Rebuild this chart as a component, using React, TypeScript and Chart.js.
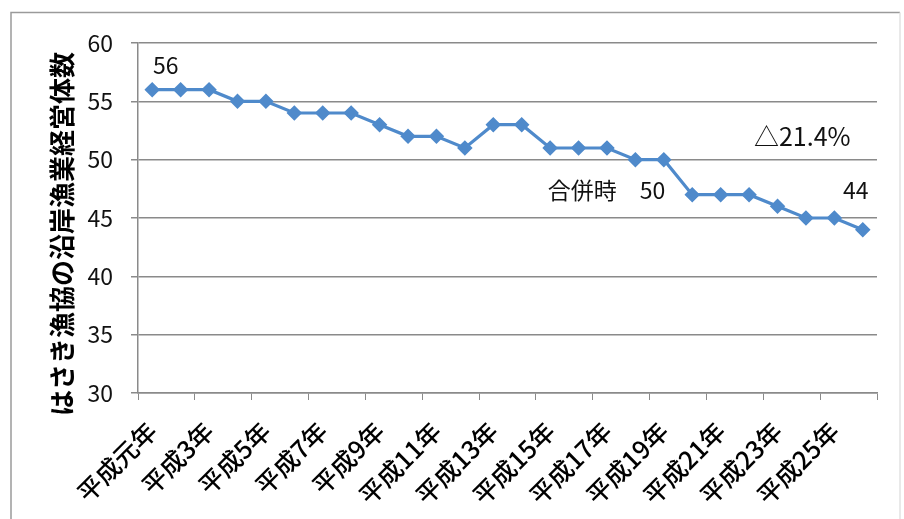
import React, { useEffect, useRef } from "react";
import { Chart, registerables } from "chart.js";

Chart.register(...registerables);

const categories = [
  "平成元年", "平成2年", "平成3年", "平成4年", "平成5年", "平成6年", "平成7年",
  "平成8年", "平成9年", "平成10年", "平成11年", "平成12年", "平成13年",
  "平成14年", "平成15年", "平成16年", "平成17年", "平成18年", "平成19年",
  "平成20年", "平成21年", "平成22年", "平成23年", "平成24年", "平成25年", "平成26年",
];
const values = [56, 56, 56, 55, 55, 54, 54, 54, 53, 52, 52, 51, 53, 53, 51, 51, 51, 50, 50, 47, 47, 47, 46, 45, 45, 44];
const yTicks = [30, 35, 40, 45, 50, 55, 60];
const yTitle = "はさき漁協の沿岸漁業経営体数";
const mergeIndex = 18;
const pct = (((values[0] - values[values.length - 1]) / values[0]) * 100).toFixed(1);
const annotations = [
  { text: String(values[0]), index: 0.03, value: 58.1, align: "left", size: 23 },
  { text: "合併時　" + values[mergeIndex], index: mergeIndex + 0.05, value: 47.4, align: "right", size: 23 },
  { text: String(values[values.length - 1]), index: values.length - 1 + 0.2, value: 47.4, align: "right", size: 23 },
  { text: "△" + pct + "%", index: 22.87, value: 52, align: "center", size: 25 },
];

const FONT = "'Noto Sans CJK JP', 'Noto Sans', sans-serif";
const LINE = "#4F8ACB";
const GRID = "#8a8a8a";

const framePlugin = {
  id: "frame",
  beforeDraw(chart: any) {
    const c = chart.ctx;
    c.save();
    c.fillStyle = "#fff";
    c.fillRect(0, 0, chart.width, chart.height);
    c.strokeStyle = "#9a9a9a";
    c.lineWidth = 1.5;
    c.beginPath();
    c.moveTo(11, chart.height);
    c.lineTo(11, 12.5);
    c.lineTo(900, 12.5);
    c.stroke();
    c.strokeStyle = "#e2e2e2";
    c.beginPath();
    c.moveTo(900, 12.5);
    c.lineTo(900, chart.height);
    c.stroke();
    c.restore();
  },
};

const titlePlugin = {
  id: "ytitle",
  afterDraw(chart: any) {
    const c = chart.ctx;
    const ys = chart.scales.y;
    c.save();
    c.translate(62, (ys.top + ys.bottom) / 2 + 16);
    c.rotate(-Math.PI / 2);
    c.fillStyle = "#000";
    c.font = `bold 26px ${FONT}`;
    c.textAlign = "center";
    c.textBaseline = "middle";
    c.fillText(yTitle, 0, 0);
    c.restore();
  },
};

const annotationPlugin = {
  id: "notes",
  afterDatasetsDraw(chart: any) {
    const c = chart.ctx;
    const xs = chart.scales.x;
    const ys = chart.scales.y;
    c.save();
    c.fillStyle = "#111";
    c.textBaseline = "middle";
    for (const a of annotations) {
      c.font = `${a.size}px ${FONT}`;
      c.textAlign = a.align;
      c.fillText(a.text, xs.getPixelForValue(a.index), ys.getPixelForValue(a.value));
    }
    c.restore();
  },
};

export default function App() {
  const ref = useRef<HTMLCanvasElement | null>(null);
  useEffect(() => {
    document.body.style.margin = "0";
    const chart = new Chart(ref.current as HTMLCanvasElement, {
      type: "line",
      data: {
        labels: categories,
        datasets: [
          {
            data: values,
            borderColor: LINE,
            backgroundColor: LINE,
            borderWidth: 3.2,
            pointStyle: "rectRot",
            pointRadius: 5.5,
            pointBackgroundColor: LINE,
            pointBorderColor: LINE,
            tension: 0,
          },
        ],
      },
      options: {
        animation: false,
        responsive: false,
        layout: { padding: { left: 0, top: 43, right: 27, bottom: 0 } },
        plugins: { legend: { display: false }, tooltip: { enabled: false } },
        scales: {
          x: {
            offset: true,
            grid: {
              offset: true,
              drawOnChartArea: false,
              drawTicks: true,
              tickLength: 7,
              tickColor: (ctx: any) =>
                ctx.index === undefined || ctx.index % 2 === 0 ? GRID : "rgba(0,0,0,0)",
            },
            border: { display: true, color: GRID, width: 1.5 },
            ticks: {
              autoSkip: false,
              maxRotation: 45,
              minRotation: 45,
              padding: 16,
              color: "#000",
              font: { family: FONT, size: 25, weight: "500" },
              callback: (_v: any, i: number) => (i % 2 === 0 ? categories[i] : ""),
            },
            afterFit: (s: any) => {
              s.height = 126;
            },
          },
          y: {
            min: 30,
            max: 60,
            afterBuildTicks: (s: any) => {
              s.ticks = yTicks.map((v) => ({ value: v }));
            },
            grid: { color: GRID, lineWidth: 1.5, tickLength: 7, drawTicks: true },
            border: { display: true, color: GRID, width: 1.5 },
            ticks: {
              padding: 18,
              color: "#111",
              font: { family: FONT, size: 23 },
            },
            afterFit: (s: any) => {
              s.width = 138;
            },
          },
        },
      },
      plugins: [framePlugin, annotationPlugin, titlePlugin],
    });
    return () => chart.destroy();
  }, []);
  return (
    <div style={{ width: 904, height: 519 }}>
      <canvas ref={ref} width={904} height={519} />
    </div>
  );
}
